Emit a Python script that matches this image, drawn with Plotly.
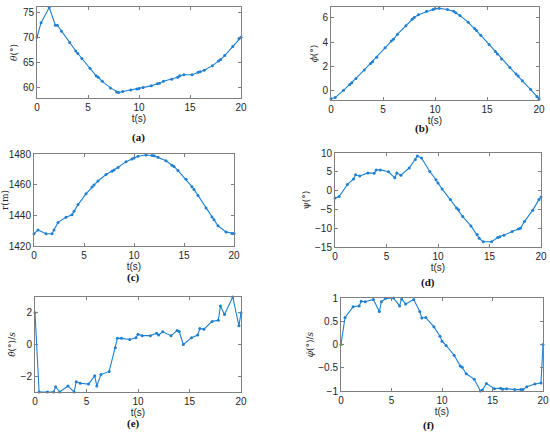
import plotly.graph_objects as go
from plotly.subplots import make_subplots

# sample times (same grid in every panel)
t = [0, 0.4, 1.2, 1.8, 2.0, 2.4, 3.2, 3.8, 4.0, 4.4, 5.2, 5.8, 6.0, 6.4,
     7.2, 7.8, 8.0, 8.4, 9.2, 9.8, 10.0, 10.4, 11.2, 11.8, 12.0, 12.4,
     13.2, 13.8, 14.0, 14.4, 15.2, 15.8, 16.0, 16.4, 17.2, 17.8, 18.0,
     18.4, 19.2, 19.8, 20.0]

theta = [70.0, 72.9, 75.9, 72.4, 72.4, 71.2, 69.0, 67.3, 66.8, 65.8, 63.9,
         62.4, 62.1, 61.3, 60.0, 59.2, 59.1, 59.3, 59.6, 59.8, 59.9, 60.1,
         60.4, 60.8, 60.9, 61.3, 61.7, 62.1, 62.4, 62.6, 62.6, 63.1, 63.2,
         63.5, 64.4, 65.3, 65.6, 66.4, 68.2, 69.7, 70.0]

phi = [-0.7, -0.6, 0.0, 0.48, 0.62, 0.99, 1.69, 2.22, 2.37, 2.73, 3.52,
       4.08, 4.23, 4.65, 5.35, 5.89, 6.03, 6.25, 6.54, 6.70, 6.76, 6.79,
       6.70, 6.54, 6.42, 6.20, 5.63, 5.13, 4.96, 4.56, 3.80, 3.21, 3.01,
       2.59, 1.89, 1.35, 1.18, 0.79, 0.06, -0.5, -0.7]

r = [1428.0, 1430.5, 1428.0, 1428.0, 1430.5, 1435.4, 1438.7, 1440.4,
     1442.6, 1447.0, 1454.0, 1458.5, 1459.8, 1462.4, 1466.6, 1468.8,
     1469.5, 1471.2, 1475.0, 1476.7, 1477.4, 1478.5, 1479.3, 1479.1,
     1478.9, 1477.8, 1475.6, 1472.7, 1471.9, 1469.2, 1463.5, 1458.7,
     1456.9, 1453.0, 1444.8, 1438.9, 1437.1, 1433.2, 1429.2, 1428.1, 1428.1]

psi = [-2.0, -1.6, 1.6, 3.1, 4.2, 3.9, 4.7, 4.6, 5.5, 5.5, 5.0, 3.4, 4.7,
       4.1, 6.0, 8.3, 9.2, 8.7, 5.1, 2.9, 2.0, 0.4, -2.4, -4.6, -5.1, -6.9,
       -9.4, -11.7, -12.7, -13.6, -13.6, -12.5, -12.3, -11.9, -10.9, -10.2,
       -10.0, -8.2, -5.2, -2.4, -1.7]

theta_dot = [2.0, -3.0, -3.0, -3.0, -2.67, -3.0, -2.62, -3.0, -2.35, -2.45,
             -2.5, -1.98, -2.62, -1.9, -1.7, -0.2, 0.39, 0.39, 0.32, 0.43,
             0.65, 0.56, 0.56, 0.71, 0.6, 0.8, 0.56, 0.88, 0.82, 0.0, 0.43,
             0.6, 1.01, 0.97, 1.46, 1.53, 2.43, 1.89, 3.0, 1.18, 2.0]

phi_dot = [0.0, 0.58, 0.81, 0.83, 0.93, 0.92, 0.97, 0.71, 0.92, 0.99, 1.0,
           0.83, 0.98, 0.87, 0.97, 0.71, 0.57, 0.58, 0.38, 0.18, 0.07, -0.02,
           -0.23, -0.46, -0.49, -0.63, -0.75, -1.0, -0.98, -0.84, -0.95,
           -0.94, -0.96, -0.95, -0.97, -0.97, -0.97, -0.91, -0.85, -0.83, 0.0]

series = [theta, phi, r, psi, theta_dot, phi_dot]
ytitles = ["<i>θ</i>(°)", "<i>ϕ</i>(°)", "r(m)", "ψ(°)",
           "<i>θ̇</i>(°)/<i>s</i>", "<i>φ̇</i>(°)/<i>s</i>"]
yranges = [[58, 76], [-0.8, 6.9], [1420, 1480], [-15, 10], [-3, 3], [-1, 1]]
ydticks = [5, 2, 20, 5, 2, 0.5]
letters = ["(a)", "(b)", "(c)", "(d)", "(e)", "(f)"]

W, H = 550, 435
# plot boxes in pixels: left, right, top, bottom
boxes = [(37, 241, 7, 98), (331, 539, 7, 100),
         (34, 234, 154, 246), (335, 541, 153, 247),
         (35, 241, 297, 392), (341, 543, 298, 391)]
letter_pos = [(138, 137), (422, 128), (133, 277), (428, 282), (133, 423), (428, 425)]

blue = "#1f80d2"
fig = make_subplots(rows=3, cols=2)

for i, y in enumerate(series):
    row, col = i // 2 + 1, i % 2 + 1
    fig.add_trace(go.Scatter(x=t, y=y, mode="lines+markers", cliponaxis=False,
                             line=dict(color=blue, width=1.1),
                             marker=dict(color=blue, size=3),
                             showlegend=False), row=row, col=col)
    l, rr, tp, bt = boxes[i]
    n = "" if i == 0 else str(i + 1)
    fig.layout["xaxis" + n].update(
        domain=[l / W, rr / W], range=[0, 20], dtick=5, automargin=False,
        title=dict(text="t(s)", standoff=1, font=dict(size=10)),
        showgrid=False, zeroline=False, ticks="inside", ticklen=3,
        mirror="ticks", showline=True, linecolor="#7f7f7f", linewidth=1,
        tickfont=dict(size=10), tickcolor="#7f7f7f")
    fig.layout["yaxis" + n].update(
        domain=[1 - bt / H, 1 - tp / H], range=yranges[i], dtick=ydticks[i],
        automargin=False,
        title=dict(text=ytitles[i], standoff=3,
                   font=dict(size=9, family="DejaVu Serif")),
        showgrid=False, zeroline=False, ticks="inside", ticklen=3,
        mirror="ticks", showline=True, linecolor="#7f7f7f", linewidth=1,
        tickfont=dict(size=10), tickcolor="#7f7f7f")
    fig.add_annotation(text="<b>" + letters[i] + "</b>", xref="paper", yref="paper",
                       x=letter_pos[i][0] / W, y=1 - letter_pos[i][1] / H,
                       xanchor="center", yanchor="middle", showarrow=False,
                       font=dict(size=11, family="Liberation Serif", color="#111"))

fig.update_layout(width=W, height=H, margin=dict(l=0, r=0, t=0, b=0),
                  paper_bgcolor="white", plot_bgcolor="white",
                  font=dict(family="Liberation Sans, Arial", color="#262626"))

# drop the default page margin so the figure sits at the window's corner
fig.write_html("out.html", config={"displayModeBar": False},
               post_script="document.body.style.margin='0';")
